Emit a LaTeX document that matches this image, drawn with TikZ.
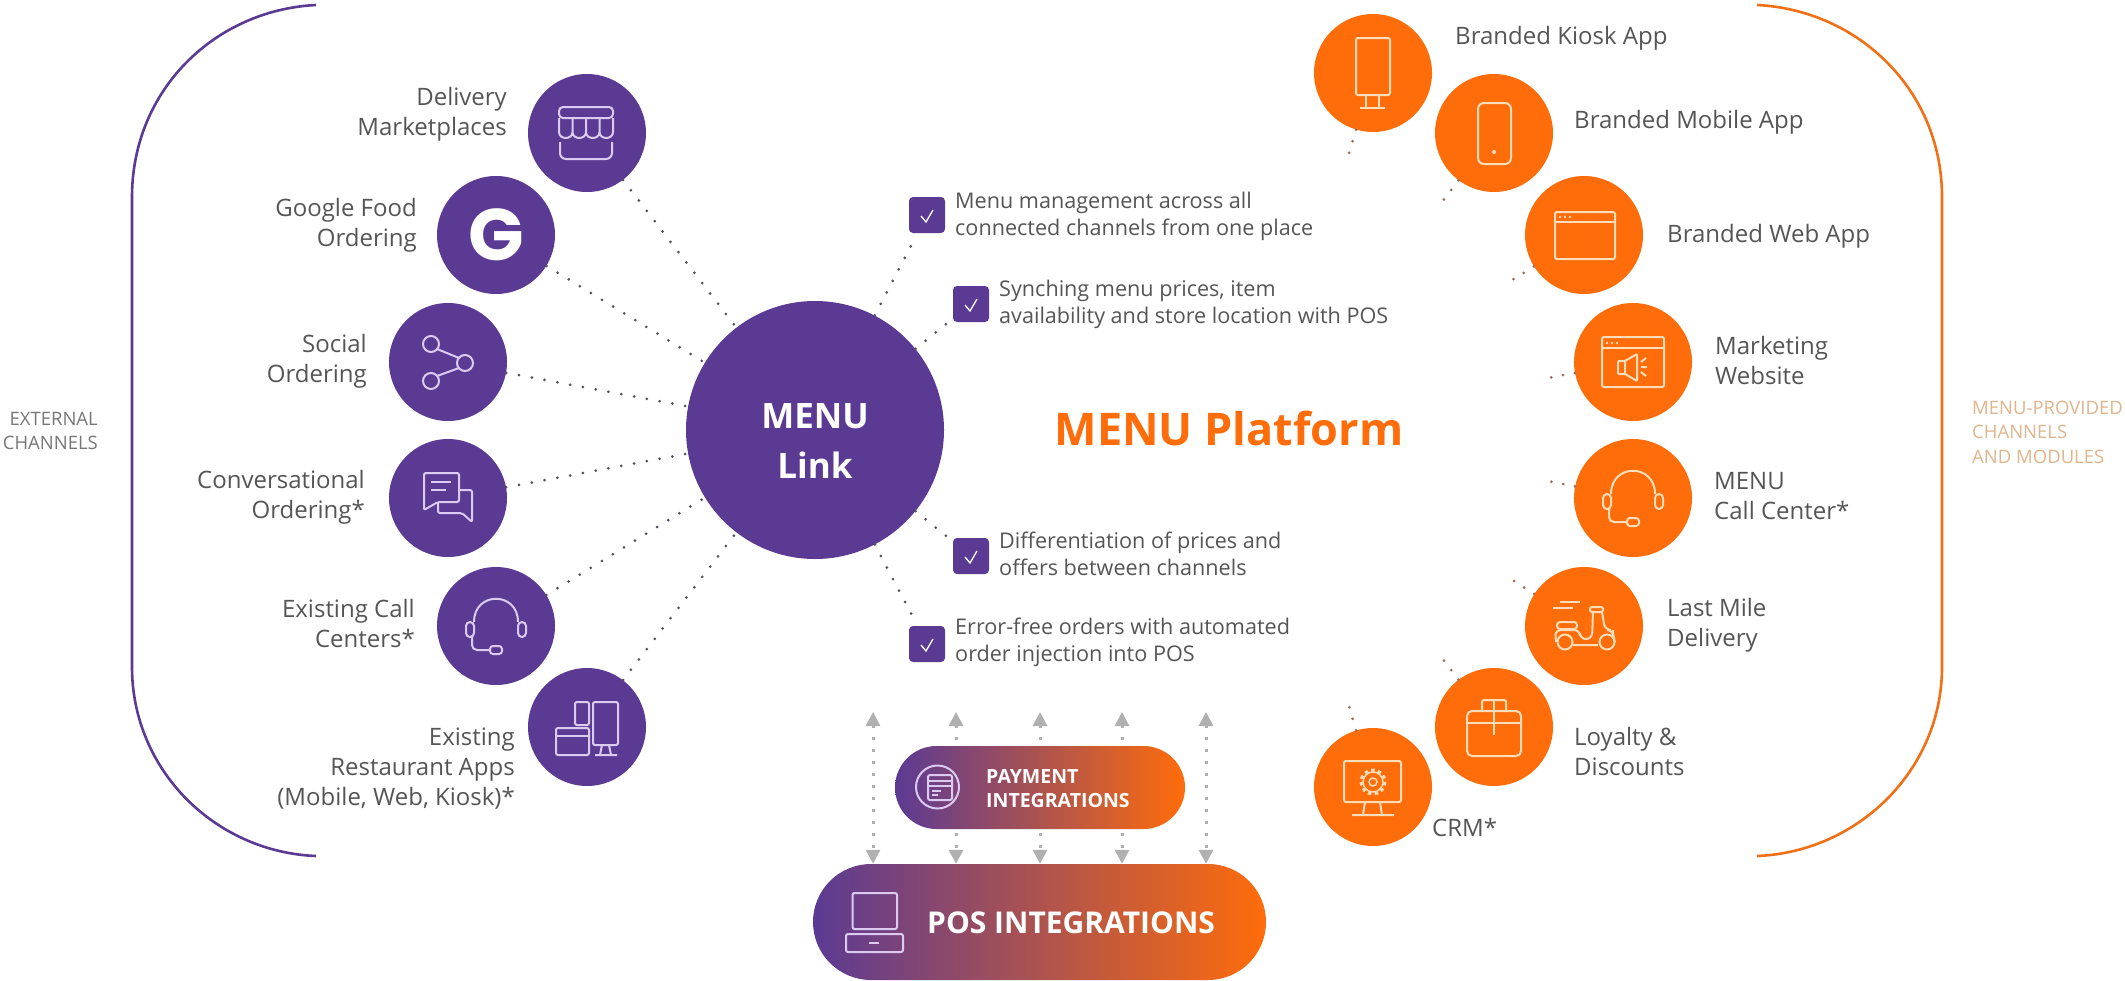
\documentclass[tikz,border=0pt]{standalone}
\usepackage{fontspec}
\setmainfont{Open Sans}
\newfontfamily\logofont{Poppins}
\usetikzlibrary{arrows.meta,shapes.misc}

\definecolor{menupurple}{HTML}{5B3A94}
\definecolor{menuorange}{HTML}{FF6C0A}
\definecolor{midpink}{HTML}{BC5470}
\definecolor{labelgray}{HTML}{555555}
\definecolor{dotgray}{HTML}{55505C}
\definecolor{dotbrown}{HTML}{A0685A}
\definecolor{arrowgray}{HTML}{B0B0B0}
\definecolor{lavender}{HTML}{DCCAF2}
\definecolor{peach}{HTML}{FFDDB8}
\definecolor{tan}{HTML}{E0B48C}

\begin{document}
\begin{tikzpicture}[x=1pt,y=-1pt]
    \tikzset{purplecircle/.style = {shape=circle, fill=menupurple, inner sep=0pt, minimum size=118pt}}
    \tikzset{orangecircle/.style = {shape=circle, fill=menuorange, inner sep=0pt, minimum size=118pt}}
    \tikzset{checkbox/.style = {shape=rectangle, rounded corners=4pt, fill=menupurple, inner sep=0pt, minimum size=36pt}}
    \tikzset{leftlabel/.style = {anchor=east, align=right, inner sep=0pt, text=labelgray, font=\fontsize{24}{30}\selectfont}}
    \tikzset{rightlabel/.style = {anchor=west, align=left, inner sep=0pt, text=labelgray, font=\fontsize{24}{30}\selectfont}}
    \tikzset{checklabel/.style = {anchor=west, align=left, inner sep=0pt, text=labelgray, font=\fontsize{21.6}{27}\selectfont}}
    \tikzset{pill/.style = {shape=rounded rectangle, inner sep=0pt, left color=menupurple, middle color=midpink, right color=menuorange}}
    \tikzset{dotline/.style = {draw=dotgray, line width=3pt, line cap=round, dash pattern=on 0pt off 13pt}}
    \tikzset{stub/.style = {draw=dotbrown, line width=3pt, line cap=round, dash pattern=on 0pt off 12pt}}
    \tikzset{updown/.style = {draw=arrowgray, line width=3pt, dash pattern=on 3pt off 9pt, {Triangle[width=14pt,length=14pt]}-{Triangle[width=14pt,length=14pt]}}}
    \tikzset{licon/.style = {draw=lavender, line width=2pt, rounded corners=2pt}}
    \tikzset{oicon/.style = {draw=peach, line width=2pt, rounded corners=2pt}}

    \useasboundingbox (0,0) rectangle (2125,980);

    % brackets
    \draw[menupurple, line width=2.6pt] (316,5) .. controls (215,10) and (132,90) .. (132,197) -- (132,667) .. controls (132,770) and (215,852) .. (316,856);
    \draw[menuorange!80!brown, line width=2.6pt] (1757,5) .. controls (1858,10) and (1942,90) .. (1942,197) -- (1942,667) .. controls (1942,770) and (1858,852) .. (1757,856);
    \node[anchor=east, align=right, inner sep=0pt, text=labelgray!80, font=\fontsize{18.5}{24}\selectfont] (external) at (98,431) {EXTERNAL\\CHANNELS};
    \node[anchor=west, align=left, inner sep=0pt, text=tan, font=\fontsize{18.5}{24.5}\selectfont] (provided) at (1972,432) {MENU-PROVIDED\\CHANNELS\\AND MODULES};

    % centre
    \node[shape=circle, fill=menupurple, inner sep=0pt, minimum size=258pt] (link) at (815,430) {};
    \node[align=center, inner sep=0pt, text=white, font=\fontsize{35}{49}\selectfont\bfseries] (llink) at (815,441) {MENU\\Link};
    \node[inner sep=0pt, text=menuorange, font=\fontsize{45}{50}\selectfont\bfseries] (platform) at (1229,428) {MENU Platform};

    % left circles
    \node[purplecircle] (delivery) at (587,133) {};
    \node[purplecircle, text=white, font=\fontsize{73}{73}\selectfont\logofont\bfseries] (google) at (496,235) {G};
    \node[purplecircle] (social) at (448,362) {};
    \node[purplecircle] (chat) at (448,498) {};
    \node[purplecircle] (callcenters) at (496,626) {};
    \node[purplecircle] (apps) at (587,727) {};

    % left labels
    \node[leftlabel] (ldelivery) at (507,114.5) {Delivery\\Marketplaces};
    \node[leftlabel] (lgoogle) at (417,225.5) {Google Food\\Ordering};
    \node[leftlabel] (lsocial) at (367,361.5) {Social\\Ordering};
    \node[leftlabel] (lchat) at (365,497.5) {Conversational\\Ordering*};
    \node[leftlabel] (lcallcenters) at (415,623.5) {Existing Call\\Centers*};
    \node[leftlabel] (lapps) at (515,768.5) {Existing\\Restaurant Apps\\(Mobile, Web, Kiosk)*};

    % right circles
    \node[orangecircle] (kiosk) at (1373,73) {};
    \node[orangecircle] (mobile) at (1494,133) {};
    \node[orangecircle] (web) at (1584,235) {};
    \node[orangecircle] (website) at (1633,362) {};
    \node[orangecircle] (callcenter) at (1633,498) {};
    \node[orangecircle] (lastmile) at (1584,626) {};
    \node[orangecircle] (loyalty) at (1494,727) {};
    \node[orangecircle] (crm) at (1373,787) {};

    % right labels
    \node[rightlabel] (lkiosk) at (1455,38) {Branded Kiosk App};
    \node[rightlabel] (lmobile) at (1574,122.5) {Branded Mobile App};
    \node[rightlabel] (lweb) at (1667,236) {Branded Web App};
    \node[rightlabel] (lwebsite) at (1715,360) {Marketing\\Website};
    \node[rightlabel] (lcallcenter) at (1714,496) {MENU\\Call Center*};
    \node[rightlabel] (llastmile) at (1667,625) {Last Mile\\Delivery};
    \node[rightlabel] (lloyalty) at (1574,751) {Loyalty \&\\Discounts};
    \node[rightlabel] (lcrm) at (1432,827) {CRM*};

    % check boxes
    \node[checkbox] (checka) at (927,215) {};
    \node[checkbox] (checkb) at (971,304) {};
    \node[checkbox] (checkc) at (971,556) {};
    \node[checkbox] (checkd) at (927,644) {};
    \draw[white, line width=1.3pt, shift={(927,215)}] (-6,1) -- (-1,7) -- (6,-5);
    \draw[white, line width=1.3pt, shift={(971,304)}] (-6,1) -- (-1,7) -- (6,-5);
    \draw[white, line width=1.3pt, shift={(971,556)}] (-6,1) -- (-1,7) -- (6,-5);
    \draw[white, line width=1.3pt, shift={(927,644)}] (-6,1) -- (-1,7) -- (6,-5);
    \node[checklabel] (texta) at (955,216) {Menu management across all\\connected channels from one place};
    \node[checklabel] (textb) at (999,304) {Synching menu prices, item\\availability and store location with POS};
    \node[checklabel] (textc) at (999,553.5) {Differentiation of prices and\\offers between channels};
    \node[checklabel] (textd) at (955,642.5) {Error-free orders with automated\\order injection into POS};

    % dotted edges
    \draw[dotline] (delivery) -- (link);
    \draw[dotline] (google) -- (link);
    \draw[dotline] (social) -- (link);
    \draw[dotline] (chat) -- (link);
    \draw[dotline] (callcenters) -- (link);
    \draw[dotline] (apps) -- (link);
    \draw[dotline, shorten >=4pt] (link) -- (checka);
    \draw[dotline, shorten >=4pt] (link) -- (checkb);
    \draw[dotline, shorten >=4pt] (link) -- (checkc);
    \draw[dotline, shorten >=4pt] (link) -- (checkd);

    % stubs
    \coordinate (endkiosk) at (1347,160);
    \coordinate (endmobile) at (1442,202);
    \coordinate (endweb) at (1509,282);
    \coordinate (endwebsite) at (1548,378);
    \coordinate (endcall) at (1548,481);
    \coordinate (endlast) at (1511,579);
    \coordinate (endloyalty) at (1442,658);
    \coordinate (endcrm) at (1348,703);
    \draw[stub] (kiosk) -- (endkiosk);
    \draw[stub] (mobile) -- (endmobile);
    \draw[stub] (web) -- (endweb);
    \draw[stub] (website) -- (endwebsite);
    \draw[stub] (callcenter) -- (endcall);
    \draw[stub] (lastmile) -- (endlast);
    \draw[stub] (loyalty) -- (endloyalty);
    \draw[stub] (crm) -- (endcrm);

    % integrations
    \node[pill, minimum width=453pt, minimum height=116pt] (pos) at (1039.5,922) {};
    \coordinate (upa) at (873,712);
    \coordinate (upb) at (956,712);
    \coordinate (upc) at (1040,712);
    \coordinate (upd) at (1122,712);
    \coordinate (upe) at (1206,712);
    \draw[updown] (upa) -- (upa |- pos.north);
    \draw[updown] (upb) -- (upb |- pos.north);
    \draw[updown] (upc) -- (upc |- pos.north);
    \draw[updown] (upd) -- (upd |- pos.north);
    \draw[updown] (upe) -- (upe |- pos.north);
    \node[pill, minimum width=290pt, minimum height=83pt] (payment) at (1040,787.5) {};
    \node[anchor=west, align=left, inner sep=0pt, text=white, font=\fontsize{19.5}{24}\selectfont\bfseries] (lpayment) at (986,788.5) {PAYMENT\\INTEGRATIONS};
    \node[anchor=west, inner sep=0pt, text=white, font=\fontsize{30}{32}\selectfont\bfseries] (lpos) at (927,923) {POS INTEGRATIONS};

    % icons on the pills
    \draw[licon] (852.5,893) rectangle (897,929);
    \draw[licon] (846,934) rectangle (903,952);
    \draw[lavender, line width=2pt] (869,943) -- (879,943);
    \draw[lavender, line width=2pt] (937.5,787) circle (21.5);
    \draw[licon] (928,775) rectangle (952,800);
    \draw[lavender, line width=1.5pt] (928,781) -- (952,781) (928,786) -- (952,786);
    \draw[lavender, line width=1.5pt] (932,791) -- (941,791) (932,795) -- (938,795);

    % icons left
    \draw[licon, rounded corners=4pt, shift={(587,133)}] (-28,-15) -- (-28,-26) -- (26,-26) -- (26,-15) -- cycle;
    \draw[licon, rounded corners=0pt, shift={(587,133)}] (-28,-15) -- (-28,-1) .. controls (-28,7) and (-14.5,7) .. (-14.5,-1) -- (-14.5,-15) (-14.5,-1) .. controls (-14.5,7) and (-1,7) .. (-1,-1) -- (-1,-15) (-1,-1) .. controls (-1,7) and (12.5,7) .. (12.5,-1) -- (12.5,-15) (12.5,-1) .. controls (12.5,7) and (26,7) .. (26,-1) -- (26,-15);
    \draw[licon, rounded corners=6pt, shift={(587,133)}] (-27,9) -- (-27,26) -- (25,26) -- (25,9);
    \draw[licon, shift={(448,362)}] (-17,-18) circle (8) (17,1) circle (8) (-17,19) circle (8);
    \draw[licon, shift={(448,362)}] (-11,-13) -- (11,-4) (11,6) -- (-11,14);
    \draw[licon, shift={(448,498)}] (-10,4) -- (11,4) -- (11,-25) -- (-24,-25) -- (-24,12) -- cycle;
    \draw[licon, shift={(448,498)}] (-17,-16) -- (3,-16) (-17,-8) -- (-2,-8);
    \draw[licon, shift={(448,498)}] (-10,4) -- (-10,15) -- (14,15) -- (24,24) -- (24,-8) -- (11,-8);
    \draw[licon, rounded corners=0pt, shift={(496,626)}] (-22,-4) .. controls (-22,-35) and (22,-35) .. (22,-4);
    \draw[licon, rounded corners=4pt, shift={(496,626)}] (-30,-4) rectangle (-22,11) (22,-4) rectangle (30,11);
    \draw[licon, rounded corners=5pt, shift={(496,626)}] (-24,11) -- (-24,24) -- (-6,24);
    \draw[licon, rounded corners=3pt, shift={(496,626)}] (-6,20) rectangle (6,28);
    \draw[licon, shift={(587,727)}] (-12,-25) rectangle (2,-2);
    \draw[licon, shift={(587,727)}] (6,-25) rectangle (31,18);
    \draw[licon, rounded corners=0pt, shift={(587,727)}] (15,18) -- (13,28) (22,18) -- (24,28) (8,28) -- (30,28);
    \draw[licon, shift={(587,727)}] (-31,1) rectangle (2,28);
    \draw[lavender, line width=2pt, shift={(587,727)}] (-31,9) -- (2,9);

    % icons right
    \draw[oicon, shift={(1373,73)}] (-17,-35) rectangle (17,22);
    \draw[oicon, rounded corners=0pt, shift={(1373,73)}] (-7,22) -- (-7,35) (6,22) -- (6,35) (-13,35) -- (12,35);
    \draw[oicon, rounded corners=6pt, shift={(1494,133)}] (-16,-30) rectangle (17,31);
    \fill[peach] (1494,152) circle (2);
    \draw[oicon, shift={(1584,235)}] (-29,-23) rectangle (31,24);
    \draw[peach, line width=2pt, shift={(1584,235)}] (-29,-13) -- (31,-13);
    \fill[peach, shift={(1584,235)}] (-24,-18) circle (1.3) (-19,-18) circle (1.3) (-14,-18) circle (1.3);
    \draw[oicon, shift={(1633,362)}] (-31,-25) rectangle (31,25);
    \draw[peach, line width=2pt, shift={(1633,362)}] (-31,-14) -- (31,-14);
    \fill[peach, shift={(1633,362)}] (-26,-19) circle (1.3) (-21,-19) circle (1.3) (-16,-19) circle (1.3);
    \draw[oicon, rounded corners=1pt, shift={(1633,362)}] (-15,-1) -- (-8,-1) -- (4,-8) -- (4,19) -- (-8,12) -- (-15,12) -- cycle;
    \draw[peach, line width=2pt, shift={(1633,362)}] (-8,-1) -- (-8,12) (8,0) -- (13,-4) (8,5) -- (14,5) (8,10) -- (13,14);
    \draw[oicon, rounded corners=0pt, shift={(1633,498)}] (-22,-4) .. controls (-22,-35) and (22,-35) .. (22,-4);
    \draw[oicon, rounded corners=4pt, shift={(1633,498)}] (-30,-4) rectangle (-22,11) (22,-4) rectangle (30,11);
    \draw[oicon, rounded corners=5pt, shift={(1633,498)}] (-24,11) -- (-24,24) -- (-6,24);
    \draw[oicon, rounded corners=3pt, shift={(1633,498)}] (-6,20) rectangle (6,28);
    \draw[oicon, shift={(1584,626)}] (-19,16) circle (7.5) (23,16) circle (7.5);
    \draw[oicon, rounded corners=3pt, shift={(1584,626)}] (-27,-4) rectangle (-7,3);
    \draw[oicon, rounded corners=6pt, shift={(1584,626)}] (-28,16) -- (-29,4) -- (-4,4) -- (-4,13) -- (8,13) -- (9,-14) (18,-14) -- (21,4) -- (29,4) -- (29,10) -- (31,16) (-11,19) -- (14,19);
    \draw[oicon, shift={(1584,626)}] (6,-19) rectangle (19,-14);
    \draw[oicon, shift={(1584,626)}] (-24,-24) -- (-4,-24) (-31,-18) -- (-11,-18);
    \draw[oicon, rounded corners=5pt, shift={(1494,727)}] (-27,-16) rectangle (27,29);
    \draw[peach, line width=2pt, shift={(1494,727)}] (-27,-4) -- (27,-4) (0,-27) -- (0,8);
    \draw[oicon, shift={(1494,727)}] (-12,-16) -- (-12,-27) -- (12,-27) -- (12,-16);
    \draw[oicon, shift={(1373,787)}] (-29,-26) rectangle (28,15);
    \draw[oicon, rounded corners=0pt, shift={(1373,787)}] (-8,15) -- (-10,28) (7,15) -- (9,28) (-21,28) -- (21,28);
    \draw[peach, line width=3pt, dash pattern=on 3.4pt off 3.4pt, shift={(1373,787)}] (0,-5) circle (12);
    \draw[peach, line width=1.5pt, shift={(1373,787)}] (0,-5) circle (10) (0,-5) circle (4);
\end{tikzpicture}
\end{document}
